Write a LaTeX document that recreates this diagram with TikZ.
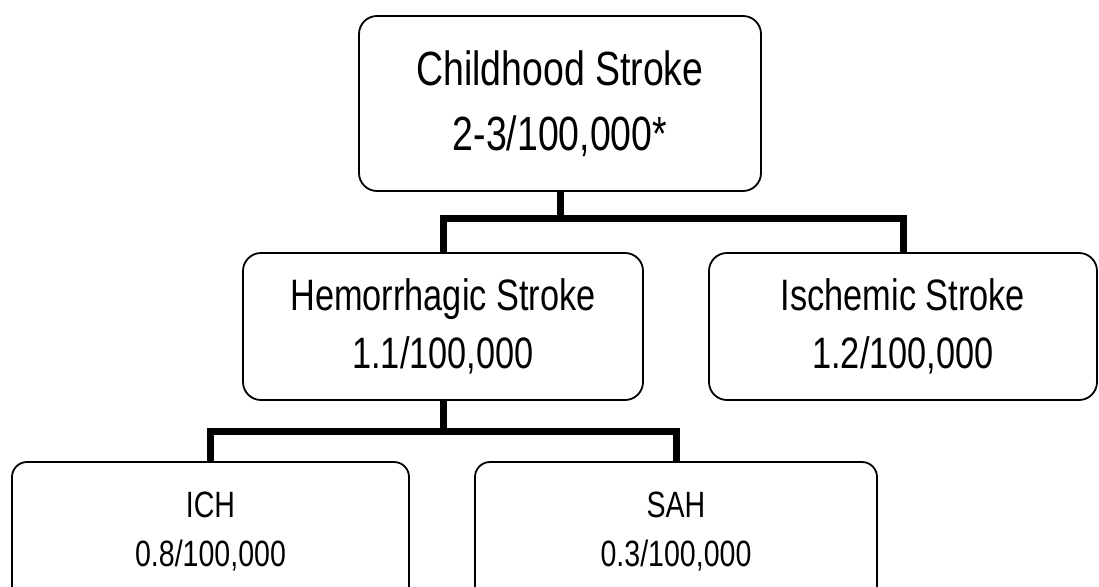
\documentclass[tikz,border=0pt]{standalone}
\usepackage{fontspec}
\setmainfont{Liberation Sans}[FakeStretch=0.78]
\begin{document}
\begin{tikzpicture}[x=1pt, y=-1pt,
    box/.style={draw, line width=1.8pt, rounded corners=18pt, align=center, inner sep=0pt},
    link/.style={line width=7pt}]
    % Canvas (y runs downwards, one unit per pixel)
    \useasboundingbox (0,0) rectangle (1099,586);
    \clip (0,0) rectangle (1099,586);

    % Top level
    \node[box, minimum width=402pt, minimum height=175pt, font=\fontsize{48}{65}\selectfont]
        (child) at (560,103.5) {Childhood Stroke\\2-3/100,000*};

    % Second level
    \node[box, minimum width=400pt, minimum height=147pt, font=\fontsize{44}{58}\selectfont]
        (hem) at (443,326.5) {Hemorrhagic Stroke\\1.1/100,000};
    \node[box, minimum width=388pt, minimum height=147pt, font=\fontsize{44}{58}\selectfont]
        (isch) at (903,326.5) {Ischemic Stroke\\1.2/100,000};

    % Third level (cut off at the bottom edge)
    \node[box, rounded corners=15pt, minimum width=397pt, minimum height=140pt, font=\fontsize{36.6}{49}\selectfont]
        (ich) at (210.5,532) {ICH\\0.8/100,000};
    \node[box, rounded corners=15pt, minimum width=402pt, minimum height=140pt, font=\fontsize{36.6}{49}\selectfont]
        (sah) at (676,532) {SAH\\0.3/100,000};

    % Branch points
    \coordinate (split1) at (560,218);
    \coordinate (split2) at (443,431);

    % Connectors
    \draw[link] (child.south) -- (split1) -| (hem.north);
    \draw[link] (split1) -| (isch.north);
    \draw[link] (hem.south) -- (split2) -| (ich.north);
    \draw[link] (split2) -| (sah.north);
\end{tikzpicture}
\end{document}
